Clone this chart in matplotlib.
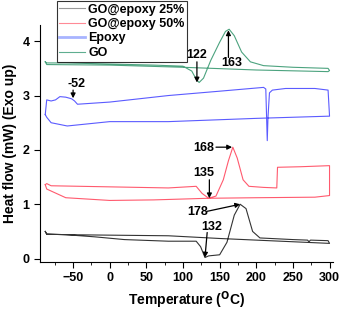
import matplotlib
matplotlib.use("Agg")
from matplotlib import pyplot as plt
from matplotlib.ticker import MultipleLocator

# DSC traces (temperature in C, heat flow in mW)
go_t = [-88, -86, -60, 0, 60, 100, 112, 118, 122, 128, 138, 150, 158, 163, 170, 180, 192, 210, 250, 298, 300,
        298, 200, 100, 0, -86, -88]
go_y = [3.62, 3.6, 3.6, 3.58, 3.56, 3.54, 3.45, 3.3, 3.24, 3.32, 3.65, 3.98, 4.18, 4.22, 4.1, 3.8, 3.62, 3.55, 3.52, 3.5, 3.46,
        3.44, 3.47, 3.52, 3.56, 3.57, 3.62]

ep_t = [-88, -86, -80, -74, -68, -60, -52, -48, -44, 0, 80, 150, 210, 213, 215, 216, 218, 222, 240, 280, 298, 300,
        298, 200, 80, 0, -58, -80, -86, -88]
ep_y = [2.65, 2.92, 2.9, 2.92, 2.98, 2.97, 2.94, 2.9, 2.84, 2.88, 3.0, 3.08, 3.15, 3.12, 2.17, 2.6, 3.05, 3.1, 3.13, 3.13, 3.1, 2.62,
        2.62, 2.58, 2.52, 2.52, 2.44, 2.5, 2.6, 2.65]

g50_t = [-88, -86, -80, 0, 80, 118, 126, 135, 145, 155, 162, 168, 174, 182, 190, 210, 228, 229, 260, 300, 300,
         280, 200, 135, 60, 0, -60, -86, -88]
g50_y = [1.36, 1.38, 1.34, 1.32, 1.3, 1.33, 1.2, 1.11, 1.15, 1.45, 1.8, 2.05, 1.85, 1.45, 1.33, 1.31, 1.3, 1.68, 1.69, 1.71, 1.16,
         1.13, 1.12, 1.11, 1.08, 1.07, 1.12, 1.28, 1.36]

g25_t = [-88, -86, -60, -20, 20, 80, 118, 124, 130, 135, 150, 160, 170, 178, 186, 195, 205, 250, 270, 272, 274, 298, 300,
         150, 80, -60, -86, -88]
g25_y = [0.5, 0.45, 0.44, 0.4, 0.35, 0.32, 0.32, 0.22, 0.02, 0.05, 0.07, 0.3, 0.8, 1.0, 0.92, 0.5, 0.38, 0.35, 0.34, 0.31, 0.34, 0.33, 0.28,
         0.37, 0.42, 0.44, 0.45, 0.5]

labels = ["GO@epoxy 25%", "GO@epoxy 50%", "Epoxy", "GO"]
colors = ["#333333", "#ff5a6e", "#5b5bff", "#4ca37f"]
legend_colors = ["#999999", "#ff8a96", "#a8b4ff", "#5fae90"]

# peak labels: text, text position, arrow start, arrow end
peaks = [("163", (166, 3.6), (162, 3.7), (162, 4.2)),
         ("122", (118, 3.74), (119, 3.62), (119, 3.24)),
         ("-52", (-45, 3.22), (-50, 3.1), (-50, 2.95)),
         ("168", (128, 2.04), (145, 2.05), (167, 2.05)),
         ("135", (128, 1.57), (136, 1.45), (136, 1.11)),
         ("178", (120, 0.86), (133, 0.87), (178, 1.0)),
         ("132", (139, 0.58), (133, 0.48), (130, 0.02))]


def main():
    plt.rcParams['font.family'] = ['Liberation Sans', 'DejaVu Sans']
    plt.rcParams['font.weight'] = 'bold'
    plt.rcParams['axes.labelweight'] = 'bold'
    fig = plt.figure(figsize=(3.4, 3.11), dpi=100)
    ax = fig.add_axes([0.118, 0.158, 0.862, 0.762])

    ax.plot(g25_t, g25_y, color=colors[0], lw=0.8, label=labels[0])
    ax.plot(g50_t, g50_y, color=colors[1], lw=0.8, label=labels[1])
    ax.plot(ep_t, ep_y, color=colors[2], lw=0.8, label=labels[2])
    ax.plot(go_t, go_y, color=colors[3], lw=0.8, label=labels[3])

    for txt, tpos, start, end in peaks:
        ax.text(tpos[0], tpos[1], txt, ha='center', va='center',
                fontsize=9, fontweight='bold', zorder=5)
        ax.annotate('', xy=end, xytext=start, zorder=5,
                    arrowprops=dict(arrowstyle='-|>', color='black', lw=0.9,
                                    mutation_scale=7, shrinkA=0, shrinkB=0))

    ax.set_xlim(-95, 305)
    ax.set_ylim(-0.06, 4.3)
    ax.set_xticks(range(-50, 301, 50))
    ax.xaxis.set_minor_locator(MultipleLocator(25))
    ax.set_yticks([0, 1, 2, 3, 4])
    ax.spines['top'].set_visible(False)
    ax.spines['right'].set_visible(False)
    ax.tick_params(axis='both', which='major', direction='out', length=4, labelsize=9)
    ax.tick_params(axis='x', which='minor', direction='out', length=2)
    ax.set_xlabel('Temperature ($\\mathbf{^{O}}$C)', fontsize=10, fontweight='bold', labelpad=4)
    ax.set_ylabel('Heat flow (mW) (Exo up)', fontsize=10, fontweight='bold', labelpad=4)

    leg = fig.legend(loc='upper left', bbox_to_anchor=(57 / 340, 1 - 1 / 311),
                     prop={'weight': 'bold', 'size': 9}, frameon=True, fancybox=False,
                     edgecolor='black', handlelength=2.0, borderpad=0.2,
                     labelspacing=0.2, handletextpad=0.3, borderaxespad=0)
    leg.get_frame().set_linewidth(0.8)
    for line, c in zip(leg.get_lines(), legend_colors):
        line.set_color(c)
    leg.get_lines()[2].set_linewidth(2)

    fig.savefig('out.png', dpi=100)


if __name__ == "__main__":
    main()
